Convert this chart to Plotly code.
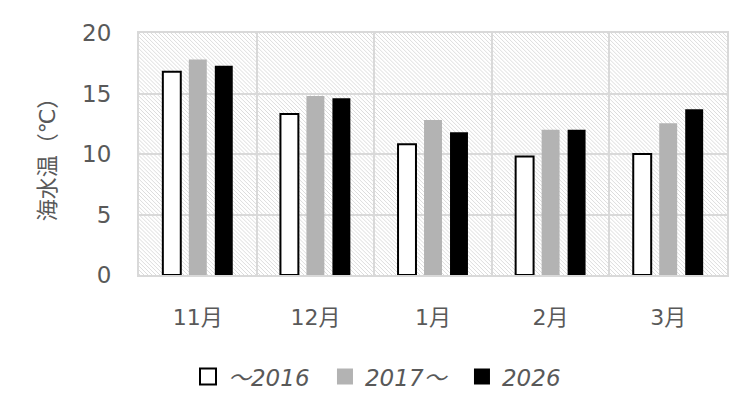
import base64
import plotly.graph_objects as go

months = ["11月", "12月", "1月", "2月", "3月"]
series_names = ["～2016", "2017～", "2026"]
v_2016 = [16.8, 13.3, 10.8, 9.8, 10.0]
v_2017 = [17.8, 14.8, 12.8, 12.0, 12.55]
v_2026 = [17.3, 14.6, 11.8, 12.0, 13.7]
y_ticks = [0, 5, 10, 15, 20]

FONT = "DejaVu Sans, Noto Sans CJK JP, sans-serif"
TXT = "#595959"
GRID = "#d9d9d9"

svg = ("<svg xmlns='http://www.w3.org/2000/svg' width='588' height='245'>"
       "<defs><pattern id='p' width='4' height='4' patternUnits='userSpaceOnUse'>"
       "<path d='M-1,-1 L5,5 M-1,3 L1,5 M3,-1 L5,1' stroke='#dcdcdc' stroke-width='1'/>"
       "</pattern></defs>"
       "<rect width='100%' height='100%' fill='white'/>"
       "<rect width='100%' height='100%' fill='url(#p)'/></svg>")
src = "data:image/svg+xml;base64," + base64.b64encode(svg.encode()).decode()

styles = [
    dict(color="white", line=dict(color="black", width=2)),
    dict(color="#b3b3b3", line=dict(color="#b3b3b3", width=0)),
    dict(color="black", line=dict(color="black", width=0)),
]
values = [v_2016, v_2017, v_2026]

fig = go.Figure()
for name, vals, st in zip(series_names, values, styles):
    fig.add_trace(go.Bar(x=months, y=vals, name=name, marker=st, showlegend=False))
# legend proxies (larger square glyphs)
for name, st in zip(series_names, styles):
    lw = st["line"]["width"]
    fig.add_trace(go.Scatter(x=[None], y=[None], mode="markers", name=name,
                             marker=dict(symbol="square", size=16, color=st["color"],
                                         line=dict(color="black", width=lw))))

fig.update_layout(
    width=734, height=402,
    margin=dict(l=131, r=15, t=22, b=135),
    paper_bgcolor="white", plot_bgcolor="white",
    barmode="group", bargap=0.337, bargroupgap=0.31,
    font=dict(family=FONT, color=TXT),
    images=[dict(source=src, xref="paper", yref="paper", x=0, y=1,
                 sizex=1, sizey=1, sizing="stretch", layer="below",
                 xanchor="left", yanchor="top")],
    legend=dict(orientation="h", x=0.0833, xanchor="left", y=-0.42, yanchor="middle",
                font=dict(size=23, style="italic", color=TXT, family=FONT),
                traceorder="normal", itemwidth=30, entrywidth=92),
    xaxis=dict(type="category", tickson="boundaries", showgrid=True,
               gridcolor=GRID, gridwidth=2, showline=True, mirror=True,
               linecolor=GRID, linewidth=2, ticks="", ticklabelstandoff=22,
               tickfont=dict(size=22, color=TXT)),
    yaxis=dict(range=[0, 20], tickvals=y_ticks, showgrid=True,
               gridcolor=GRID, gridwidth=2, showline=True, mirror=True,
               linecolor=GRID, linewidth=2, ticks="", zeroline=False,
               ticklabelstandoff=21, tickfont=dict(size=23, color=TXT),
               title=dict(text="海水温（℃）", font=dict(size=22, color=TXT), standoff=20)),
)

fig.write_html("out.html")
